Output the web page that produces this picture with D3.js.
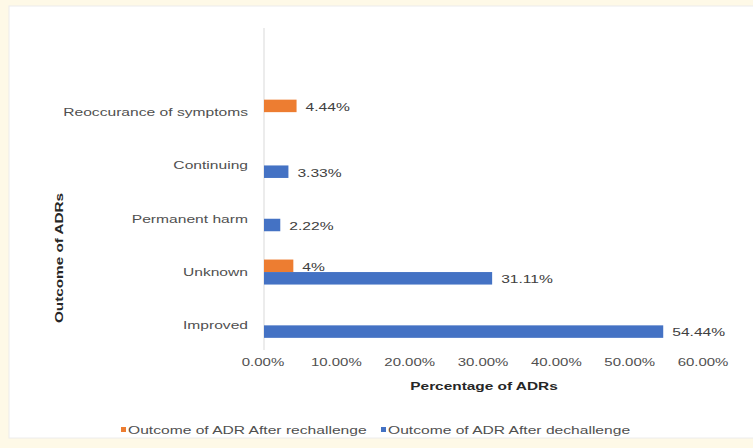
<!DOCTYPE html>
<html>
<head>
<meta charset="utf-8">
<script src="https://cdn.jsdelivr.net/npm/d3@7"></script>
<style>
  html, body { margin: 0; padding: 0; background: #fef9e7; }
  svg { display: block; }
  text { font-family: "Liberation Sans", Arial, sans-serif; }
</style>
</head>
<body>
<svg id="chart" width="753" height="448"></svg>
<script>
// Outcome categories, listed top to bottom
const categories = ["Reoccurance of symptoms", "Continuing", "Permanent harm", "Unknown", "Improved"];
const seriesNames = ["Outcome of ADR After rechallenge", "Outcome of ADR After dechallenge"];
// Percentages per category (null = no bar)
const rechallenge = [4.44, null, null, 4, null];
const dechallenge = [null, 3.33, 2.22, 31.11, 54.44];
const rechallengeLabels = ["4.44%", "", "", "4%", ""];
const dechallengeLabels = ["", "3.33%", "2.22%", "31.11%", "54.44%"];
const xTicks = [0, 10, 20, 30, 40, 50, 60];
const colors = ["#ED7D31", "#4472C4"];

// the chart's lettering is set wide
const SX = 1.42;

const svg = d3.select("#chart");

// chart panel
svg.append("rect").attr("x", 9).attr("y", 6).attr("width", 745).attr("height", 432)
  .attr("fill", "#ffffff").attr("stroke", "#ececec");

const x = d3.scaleLinear().domain([0, 60]).range([264, 704]);
const y = d3.scaleBand().domain(categories).range([85.5, 352]);
const sub = d3.scaleBand().domain([0, 1]).range([y.bandwidth() / 2 - 12.5, y.bandwidth() / 2 + 12.5]);

// place a horizontally widened text at (px, py)
function wideText(parent, px, py, str, opts) {
  const t = parent.append("text")
    .attr("transform", `translate(${px},${py}) scale(${opts.sx || SX},1)`)
    .attr("text-anchor", opts.anchor || "start")
    .attr("dy", opts.dy || "0.35em")
    .attr("font-size", opts.size || 11)
    .attr("font-weight", opts.weight || "normal")
    .attr("fill", opts.fill || "#404040")
    .text(str);
  return t;
}

// vertical category axis line
svg.append("line").attr("x1", x(0)).attr("x2", x(0)).attr("y1", 28).attr("y2", 350)
  .attr("stroke", "#d9d9d9").attr("stroke-width", 1);

const series = [rechallenge, dechallenge];
const seriesLabels = [rechallengeLabels, dechallengeLabels];

series.forEach((vals, si) => {
  const g = svg.append("g");
  const rows = categories.map((c, i) => ({ c, v: vals[i], lab: seriesLabels[si][i] }))
    .filter(d => d.v != null);
  g.selectAll("rect").data(rows).join("rect")
    .attr("x", x(0))
    .attr("y", d => y(d.c) + sub(si))
    .attr("width", d => x(d.v) - x(0))
    .attr("height", sub.bandwidth())
    .attr("fill", colors[si]);
  rows.forEach(d => {
    wideText(g, x(d.v) + 9, y(d.c) + sub(si) + sub.bandwidth() / 2 + 1, d.lab, {});
  });
});

// category labels
const yAxis = d3.axisLeft(y).tickSize(0).tickPadding(0).tickFormat("");
const yg = svg.append("g").call(yAxis);
yg.select(".domain").remove();
categories.forEach(c => {
  wideText(svg, x(0) - 16, y(c) + y.bandwidth() / 2, c, { anchor: "end", fill: "#505050" });
});

// value axis ticks
const xAxis = d3.axisBottom(x).tickValues(xTicks).tickSize(0).tickPadding(0).tickFormat("");
const xg = svg.append("g").attr("transform", "translate(0,359)").call(xAxis);
xg.select(".domain").remove();
xTicks.forEach(v => {
  wideText(svg, x(v) - 1, 362, v.toFixed(2) + "%", { anchor: "middle", sx: 1.36, fill: "#505050" });
});

// axis titles
wideText(svg, 484, 386, "Percentage of ADRs",
  { anchor: "middle", size: 11.5, weight: "bold", fill: "#262626", sx: 1.34 });
svg.append("text").attr("transform", "translate(63,258) rotate(-90) scale(1.33,1)")
  .attr("text-anchor", "middle")
  .attr("font-size", 11.5).attr("font-weight", "bold").attr("fill", "#262626")
  .text("Outcome of ADRs");

// legend
const legendX = [121, 381];
seriesNames.forEach((name, i) => {
  svg.append("rect").attr("x", legendX[i]).attr("y", 427).attr("width", 5).attr("height", 5)
    .attr("fill", colors[i]);
  wideText(svg, legendX[i] + 7, 430, name, { size: 11, sx: 1.42, fill: "#505050" });
});
</script>
</body>
</html>
